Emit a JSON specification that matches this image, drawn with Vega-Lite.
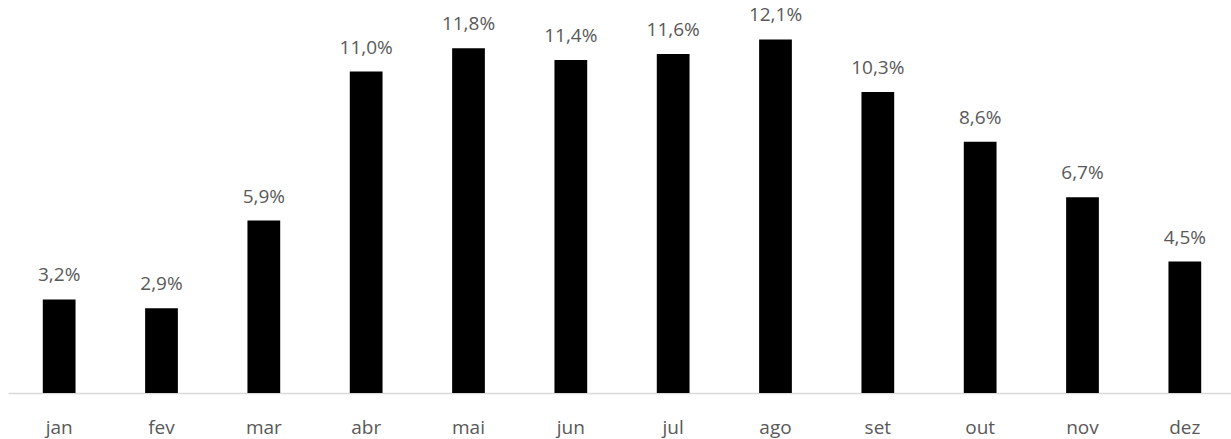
{
  "$schema": "https://vega.github.io/schema/vega-lite/v6.json",
  "autosize": "none",
  "padding": {"left": 8, "top": 0, "right": 0, "bottom": 46},
  "width": 1228,
  "height": 393,
  "background": "white",
  "config": {
    "view": {"stroke": null},
    "locale": {"number": {"decimal": ",", "thousands": ".", "grouping": [3], "currency": ["R$", ""]}}
  },
  "data": {
    "values": [
      {"mes": "jan", "v": 0.032},
      {"mes": "fev", "v": 0.029},
      {"mes": "mar", "v": 0.059},
      {"mes": "abr", "v": 0.110},
      {"mes": "mai", "v": 0.118},
      {"mes": "jun", "v": 0.114},
      {"mes": "jul", "v": 0.116},
      {"mes": "ago", "v": 0.121},
      {"mes": "set", "v": 0.103},
      {"mes": "out", "v": 0.086},
      {"mes": "nov", "v": 0.067},
      {"mes": "dez", "v": 0.045}
    ]
  },
  "encoding": {
    "x": {
      "field": "mes", "type": "nominal", "sort": null,
      "scale": {"paddingInner": 0.68, "paddingOuter": 0.34},
      "axis": {
        "title": null, "labelAngle": 0, "ticks": false,
        "domainColor": "#d9d9d9", "domainWidth": 1.5,
        "labelColor": "#595959", "labelFont": "Open Sans", "labelFontSize": 19,
        "labelPadding": 25
      }
    },
    "y": {
      "field": "v", "type": "quantitative",
      "scale": {"domain": [0, 0.1345], "nice": false},
      "axis": null
    }
  },
  "layer": [
    {"mark": {"type": "bar", "color": "#000000"}},
    {
      "mark": {"type": "text", "baseline": "bottom", "dy": -14, "color": "#595959", "font": "Open Sans", "fontSize": 19},
      "encoding": {"text": {"field": "v", "type": "quantitative", "format": ".1%"}}
    }
  ]
}
